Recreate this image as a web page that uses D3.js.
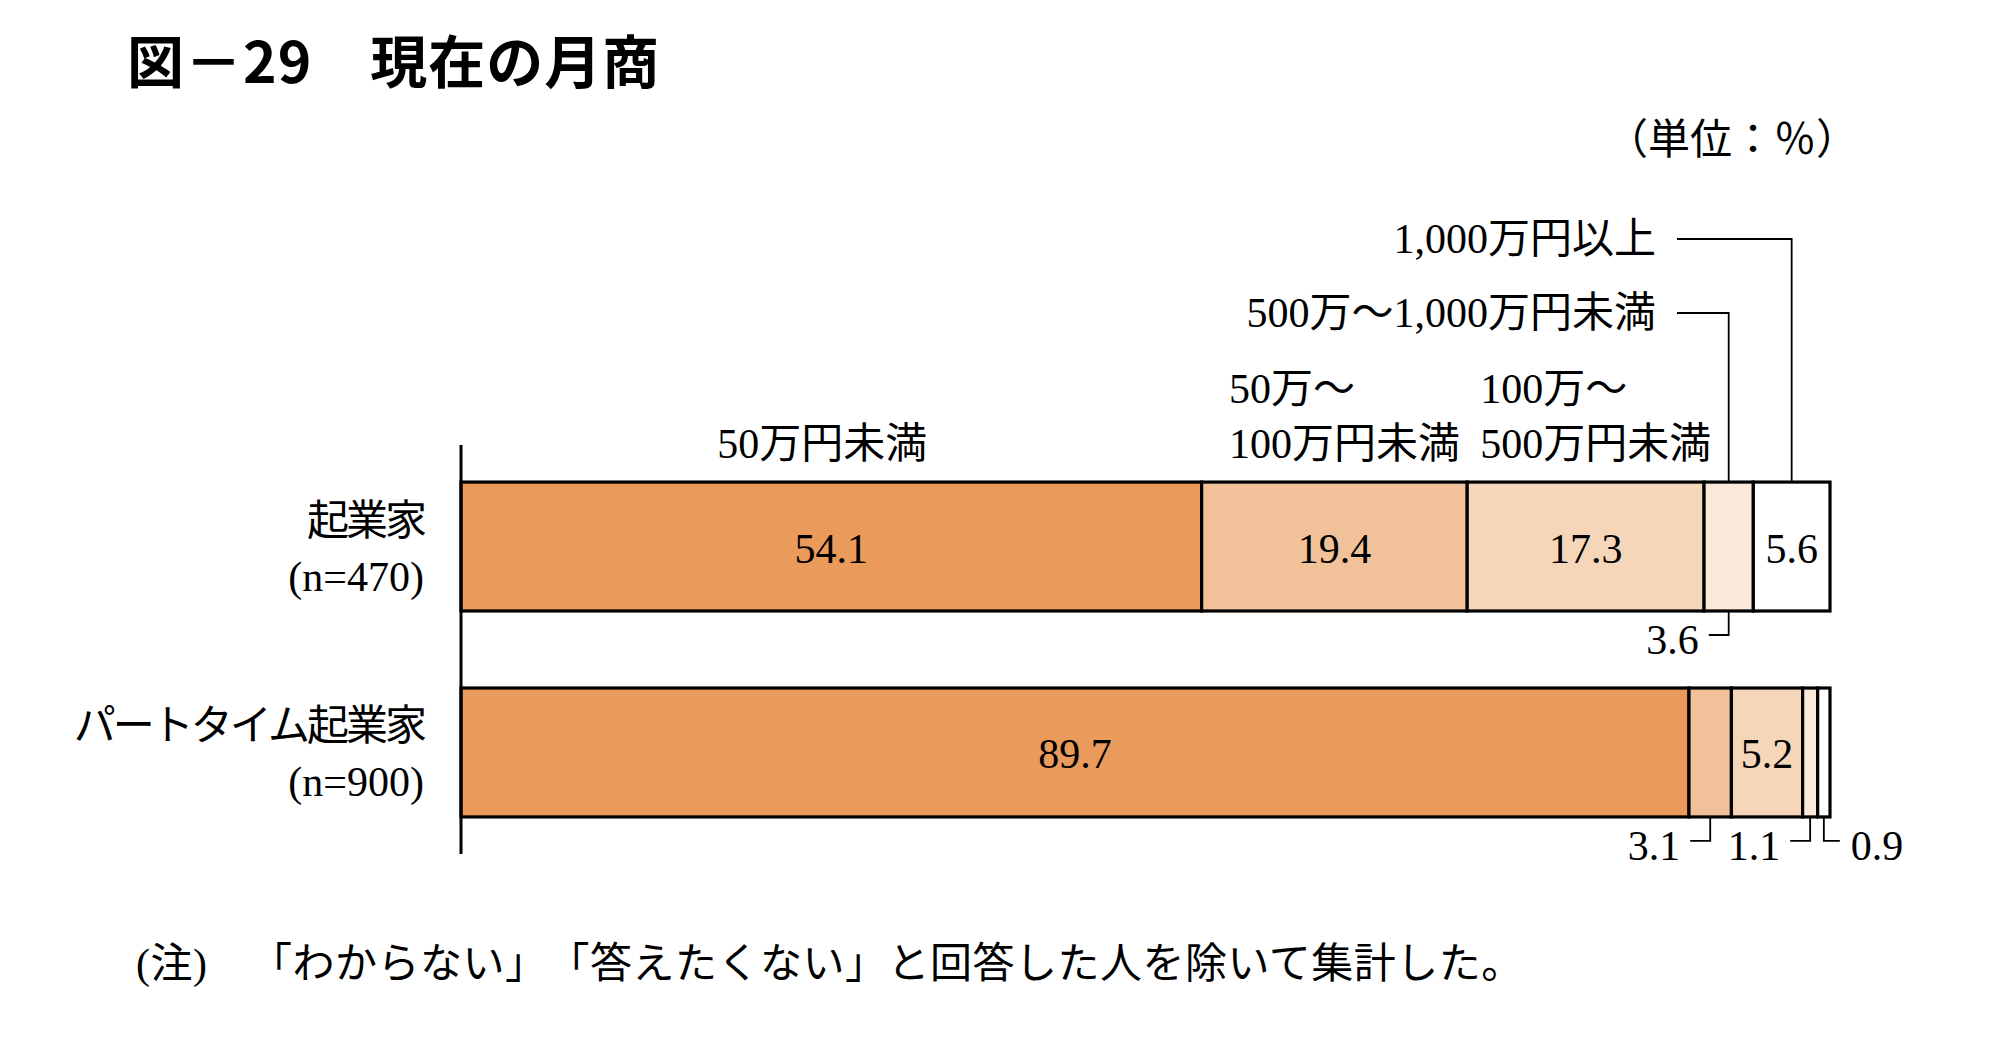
<!DOCTYPE html>
<html>
<head>
  <meta charset="utf-8">
  <title>現在の月商</title>
  <style>
    body { margin: 0; background: #fff; }
    text { font-family: "Liberation Serif", "Noto Sans CJK JP", serif; fill: #000; text-spacing-trim: space-all; }
    .title { font-family: "Noto Sans CJK JP", sans-serif; font-weight: 700; }
  </style>
</head>
<body>
  <div id="chart"></div>
  <script src="https://cdn.jsdelivr.net/npm/d3@7/dist/d3.min.js"></script>
  <script>
    // data
    const categories = ['起業家', 'パートタイム起業家'];
    const sampleSizes = ['(n=470)', '(n=900)'];
    const seriesNames = ['50万円未満', '50万～100万円未満', '100万～500万円未満', '500万～1,000万円未満', '1,000万円以上'];
    const entrepreneurValues = [54.1, 19.4, 17.3, 3.6, 5.6];
    const partTimeValues = [89.7, 3.1, 5.2, 1.1, 0.9];
    const seriesColors = ['#ea9a5a', '#f1c29a', '#f5d6b9', '#fae8d9', '#ffffff'];

    const titleText = '図－29　現在の月商';
    const unitText = '（単位：％）';
    const noteText = '(注)　「わからない」「答えたくない」と回答した人を除いて集計した。';

    const svgWidth = 2010;
    const svgHeight = 1048;
    const fontSize = 42;

    function translate(x, y) {
      return 'translate(' + x + ',' + y + ')';
    }

    const rows = categories.map((c, i) => ({
      name: c,
      n: sampleSizes[i],
      values: i === 0 ? entrepreneurValues : partTimeValues
    }));

    // stack: start/end per segment
    rows.forEach(r => {
      let acc = 0;
      r.segs = r.values.map((v, j) => {
        const s = { v: v, j: j, x0: acc, x1: acc + v, row: r.name };
        acc += v;
        return s;
      });
    });

    const svg = d3.select('#chart')
      .append('svg')
        .attr('width', svgWidth)
        .attr('height', svgHeight);

    const x = d3.scaleLinear().domain([0, 100]).range([461, 1830]);
    const y = d3.scaleBand()
      .domain(categories)
      .range([445, 854])
      .paddingInner(0.374)
      .paddingOuter(0.18);
    const color = d3.scaleOrdinal().domain(seriesNames).range(seriesColors);

    // title and unit
    svg.append('text')
      .attr('class', 'title')
      .attr('x', 127)
      .attr('y', 58)
      .attr('dominant-baseline', 'central')
      .style('font-size', '57px')
      .style('letter-spacing', '1px')
      .text(titleText);

    svg.append('text')
      .attr('x', 1858)
      .attr('y', 140)
      .attr('text-anchor', 'end')
      .attr('dominant-baseline', 'central')
      .style('font-size', fontSize + 'px')
      .text(unitText);

    // bars
    const rowG = svg.selectAll('.row')
      .data(rows)
      .enter()
      .append('g')
        .attr('class', 'row');

    rowG.selectAll('rect')
      .data(d => d.segs)
      .enter()
      .append('rect')
        .attr('x', d => x(d.x0))
        .attr('width', d => x(d.x1) - x(d.x0))
        .attr('y', d => y(d.row))
        .attr('height', y.bandwidth())
        .attr('fill', d => color(seriesNames[d.j]))
        .attr('stroke', '#000')
        .attr('stroke-width', 3.2);

    // values inside wide segments
    rowG.selectAll('.inlabel')
      .data(d => d.segs.filter(s => s.v >= 5))
      .enter()
      .append('text')
        .attr('class', 'inlabel')
        .attr('x', d => x((d.x0 + d.x1) / 2))
        .attr('y', d => y(d.row) + y.bandwidth() / 2 + 2)
        .attr('text-anchor', 'middle')
        .attr('dominant-baseline', 'central')
        .style('font-size', fontSize + 'px')
        .text(d => d.v.toFixed(1));

    // values of narrow segments: below the bar with a leader
    const small = rowG.selectAll('.outlabel')
      .data(d => d.segs.filter(s => s.v < 5))
      .enter()
      .append('g')
        .attr('class', 'outlabel');

    small.append('path')
      .attr('fill', 'none')
      .attr('stroke', '#000')
      .attr('stroke-width', 1.8)
      .attr('d', d => {
        const cx = x((d.x0 + d.x1) / 2);
        const top = y(d.row) + y.bandwidth();
        const ly = top + 24;
        const ex = d.j === seriesNames.length - 1 ? cx + 16 : cx - 20;
        return 'M' + cx + ',' + top + 'V' + ly + 'H' + ex;
      });

    small.append('text')
      .attr('x', d => {
        const cx = x((d.x0 + d.x1) / 2);
        return d.j === seriesNames.length - 1 ? cx + 27 : cx - 30;
      })
      .attr('y', d => y(d.row) + y.bandwidth() + 29)
      .attr('text-anchor', d => d.j === seriesNames.length - 1 ? 'start' : 'end')
      .attr('dominant-baseline', 'central')
      .style('font-size', fontSize + 'px')
      .text(d => d.v.toFixed(1));

    // category axis
    svg.append('line')
      .attr('x1', x(0)).attr('x2', x(0))
      .attr('y1', y.range()[0]).attr('y2', y.range()[1])
      .attr('stroke', '#000')
      .attr('stroke-width', 3);

    const catG = svg.selectAll('.cat')
      .data(rows)
      .enter()
      .append('g')
        .attr('class', 'cat')
        .attr('transform', d => translate(x(0) - 37, y(d.name) + y.bandwidth() / 2));

    catG.append('text')
      .attr('y', -26)
      .attr('text-anchor', 'end')
      .attr('dominant-baseline', 'central')
      .style('font-size', fontSize + 'px')
      .style('letter-spacing', '-3px')
      .text(d => d.name);

    catG.append('text')
      .attr('y', 30)
      .attr('text-anchor', 'end')
      .attr('dominant-baseline', 'central')
      .style('font-size', fontSize + 'px')
      .text(d => d.n);

    // series labels above the first bar
    const first = rows[0];
    const barTop = y(first.name);

    first.segs.slice(0, 3).forEach(s => {
      const name = seriesNames[s.j];
      const cut = name.indexOf('～');
      const lines = cut < 0 ? [name] : [name.slice(0, cut + 1), name.slice(cut + 1)];
      const cx = x((s.x0 + s.x1) / 2);
      const g = svg.append('g');
      const t = g.selectAll('text')
        .data(lines)
        .enter()
        .append('text')
          .attr('y', (d, i) => barTop - 38 - (lines.length - 1 - i) * 55)
          .attr('dominant-baseline', 'central')
          .style('font-size', fontSize + 'px')
          .text(d => d);
      if (lines.length === 1) {
        t.attr('x', cx - 9).attr('text-anchor', 'middle');
      } else {
        const w = d3.max(t.nodes(), n => n.getComputedTextLength());
        t.attr('x', cx - w / 2 + 10);
      }
    });

    // the two top ranges use leaders to the bar
    first.segs.slice(3).forEach((s, k) => {
      const ly = 313 - k * 74;
      const cx = x((s.x0 + s.x1) / 2);
      svg.append('text')
        .attr('x', 1656)
        .attr('y', ly)
        .attr('text-anchor', 'end')
        .attr('dominant-baseline', 'central')
        .style('font-size', fontSize + 'px')
        .text(seriesNames[s.j]);
      svg.append('path')
        .attr('fill', 'none')
        .attr('stroke', '#000')
        .attr('stroke-width', 1.8)
        .attr('d', 'M1677,' + ly + 'H' + cx + 'V' + barTop);
    });

    // note
    svg.append('text')
      .attr('x', 136)
      .attr('y', 964)
      .attr('dominant-baseline', 'central')
      .style('font-size', fontSize + 'px')
      .style('letter-spacing', '0.5px')
      .text(noteText);
  </script>
</body>
</html>
